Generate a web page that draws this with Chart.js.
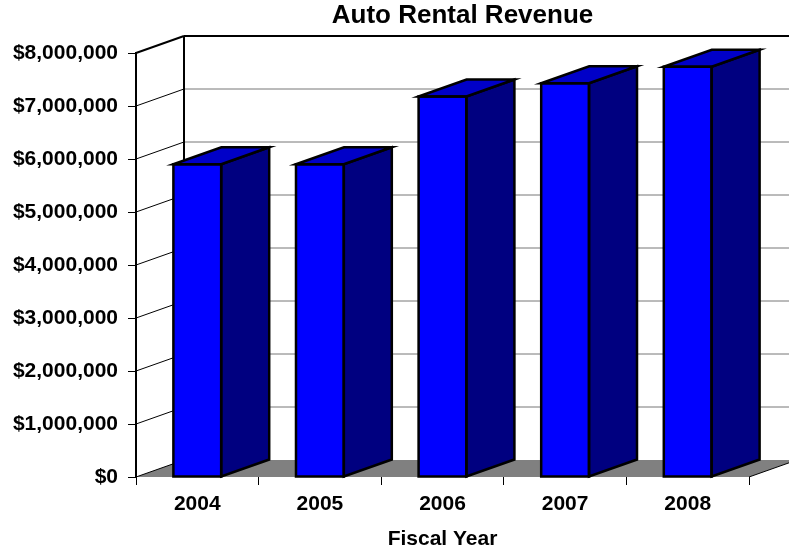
<!DOCTYPE html>
<html>
<head>
<meta charset="utf-8">
<title>Auto Rental Revenue</title>
<script src="https://cdn.jsdelivr.net/npm/chart.js@4.4.1/dist/chart.umd.min.js"></script>
<style>
  html, body { margin: 0; padding: 0; background: #fff; }
  #wrap { width: 789px; height: 552px; position: relative; }
</style>
</head>
<body>
<div id="wrap"><canvas id="revenueChart"></canvas></div>
<script>
const fiscalYears = ['2004', '2005', '2006', '2007', '2008'];
const revenue = [5900000, 5900000, 7180000, 7430000, 7740000];
const axisMax = 8000000;
const axisStep = 1000000;
const chartTitle = 'Auto Rental Revenue';
const xAxisTitle = 'Fiscal Year';

// depth of the walls and boxes, in pixels
const depthX = 48;
const depthY = -17;
const fontFamily = "'Liberation Sans', Arial, Helvetica, sans-serif";

function poly(ctx, pts, fill, stroke, width) {
  ctx.beginPath();
  ctx.moveTo(pts[0][0], pts[0][1]);
  for (let i = 1; i < pts.length; i++) ctx.lineTo(pts[i][0], pts[i][1]);
  ctx.closePath();
  if (fill) { ctx.fillStyle = fill; ctx.fill(); }
  if (stroke) { ctx.strokeStyle = stroke; ctx.lineWidth = width || 1; ctx.stroke(); }
}

function line(ctx, x1, y1, x2, y2, color, width) {
  ctx.beginPath();
  ctx.moveTo(x1, y1);
  ctx.lineTo(x2, y2);
  ctx.strokeStyle = color;
  ctx.lineWidth = width;
  ctx.stroke();
}

const box3d = {
  id: 'box3d',
  beforeDraw(chart) {
    const { ctx, chartArea: a } = chart;
    const y = chart.scales.y;
    const y0 = y.getPixelForValue(0);
    const yTop = y.getPixelForValue(axisMax);
    const farRight = a.right + depthX;
    ctx.save();
    ctx.lineJoin = 'miter';

    // floor
    poly(ctx, [[a.left, y0], [a.right, y0], [farRight, y0 + depthY], [a.left + depthX, y0 + depthY]], '#808080');
    line(ctx, a.right, y0, farRight, y0 + depthY, '#000', 1);

    // gridlines: back wall in grey, side wall in black
    y.ticks.forEach(t => {
      const py = y.getPixelForValue(t.value);
      if (t.value > 0 && t.value < axisMax) {
        line(ctx, a.left + depthX, py + depthY, farRight, py + depthY, '#777', 1);
      }
      if (t.value < axisMax) {
        line(ctx, a.left, py, a.left + depthX, py + depthY, '#000', 1);
      }
    });

    // wall edges
    line(ctx, a.left, yTop, a.left + depthX, yTop + depthY, '#000', 2);
    line(ctx, a.left + depthX, yTop + depthY, farRight, yTop + depthY, '#000', 2);
    line(ctx, a.left + depthX, yTop + depthY, a.left + depthX, y0 + depthY, '#000', 2);
    ctx.restore();
  },
  afterDatasetsDraw(chart) {
    const { ctx } = chart;
    const meta = chart.getDatasetMeta(0);
    ctx.save();
    ctx.lineJoin = 'miter';
    meta.data.forEach(bar => {
      const { x, y, base, width } = bar.getProps(['x', 'y', 'base', 'width'], true);
      const l = x - width / 2;
      const r = x + width / 2;
      // side face
      poly(ctx, [[r, y], [r + depthX, y + depthY], [r + depthX, base + depthY], [r, base]], '#000080', '#000', 2.5);
      // top face
      poly(ctx, [[l, y], [l + depthX, y + depthY], [r + depthX, y + depthY], [r, y]], '#0000C8', '#000', 2.5);
      // front outline
      poly(ctx, [[l, y], [r, y], [r, base], [l, base]], null, '#000', 2.5);
    });
    ctx.restore();
  },
  afterDraw(chart) {
    const { ctx, chartArea: a } = chart;
    ctx.save();
    ctx.font = 'bold 26px ' + fontFamily;
    ctx.fillStyle = '#000';
    ctx.textAlign = 'center';
    ctx.textBaseline = 'middle';
    ctx.fillText(chartTitle, (a.left + a.right) / 2 + 20, 16);
    ctx.restore();
  }
};

const tickFont = { family: fontFamily, size: 21, weight: 'bold' };

new Chart(document.getElementById('revenueChart'), {
  type: 'bar',
  data: {
    labels: fiscalYears,
    datasets: [{
      label: 'Revenue',
      data: revenue,
      backgroundColor: '#0000FF',
      borderWidth: 0,
      categoryPercentage: 1,
      barPercentage: 0.39
    }]
  },
  options: {
    responsive: true,
    maintainAspectRatio: false,
    animation: false,
    layout: { padding: { top: 53, right: 40, bottom: 0, left: 0 } },
    plugins: {
      legend: { display: false },
      tooltip: { enabled: false },
      title: { display: false }
    },
    scales: {
      x: {
        ticks: { color: '#000', font: tickFont, padding: 7, maxRotation: 0 },
        grid: { offset: true, drawOnChartArea: false, tickLength: 8, color: '#000' },
        border: { display: false },
        title: { display: true, text: xAxisTitle, color: '#000', font: tickFont, padding: { top: 0, bottom: 0 } },
        afterFit: s => { s.height = 75; }
      },
      y: {
        min: 0,
        max: axisMax,
        ticks: {
          stepSize: axisStep,
          color: '#000',
          font: tickFont,
          padding: 10,
          callback: v => '$' + v.toLocaleString('en-US')
        },
        grid: { drawOnChartArea: false, tickLength: 8, color: '#000' },
        border: { display: true, color: '#000', width: 2 },
        afterFit: s => { s.width = 136; }
      }
    }
  },
  plugins: [box3d]
});
</script>
</body>
</html>
